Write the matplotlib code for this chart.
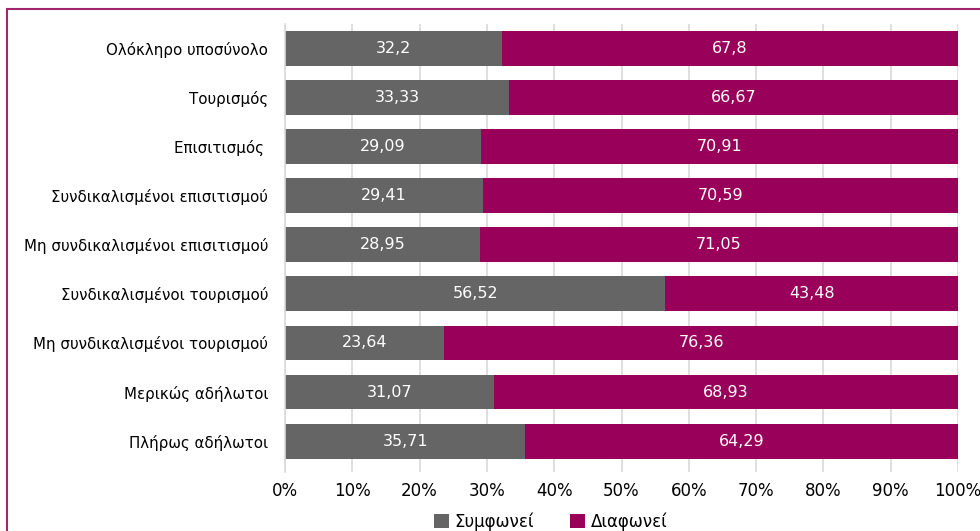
import matplotlib.pyplot as plt
import matplotlib.patches as patches
import numpy as np

plt.rcParams['font.family'] = ['DejaVu Sans']

categories = ['Ολόκληρο υποσύνολο', 'Τουρισμός', 'Επισιτισμός ',
              'Συνδικαλισμένοι επισιτισμού', 'Μη συνδικαλισμένοι επισιτισμού',
              'Συνδικαλισμένοι τουρισμού', 'Μη συνδικαλισμένοι τουρισμού',
              'Μερικώς αδήλωτοι', 'Πλήρως αδήλωτοι']
agree = [32.2, 33.33, 29.09, 29.41, 28.95, 56.52, 23.64, 31.07, 35.71]
disagree = [67.8, 66.67, 70.91, 70.59, 71.05, 43.48, 76.36, 68.93, 64.29]
agree_labels = ['32,2', '33,33', '29,09', '29,41', '28,95', '56,52', '23,64', '31,07', '35,71']
disagree_labels = ['67,8', '66,67', '70,91', '70,59', '71,05', '43,48', '76,36', '68,93', '64,29']

gray = '#656565'
magenta = '#990059'

fig = plt.figure(figsize=(9.8, 5.31), dpi=100)
ax = fig.add_axes([0.2908, 0.1111, 0.6868, 0.8437])

y = np.arange(len(categories))[::-1]
b1 = ax.barh(y, agree, height=0.71, color=gray, label='Συμφωνεί', zorder=2)
b2 = ax.barh(y, disagree, left=agree, height=0.71, color=magenta, label='Διαφωνεί', zorder=2)

for i in range(len(categories)):
    ax.text(agree[i] / 2, y[i], agree_labels[i], ha='center', va='center',
            color='white', fontsize=11.5, zorder=3)
    ax.text(agree[i] + disagree[i] / 2, y[i], disagree_labels[i], ha='center',
            va='center', color='white', fontsize=11.5, zorder=3)

ax.set_xlim(0, 100)
ax.set_ylim(-0.63, 8.5)
ax.set_yticks(y)
ax.set_yticklabels(categories, fontsize=10.8)
ax.set_xticks(np.arange(0, 101, 10))
ax.set_xticklabels([f'{v}%' for v in range(0, 101, 10)], fontsize=12)
ax.tick_params(axis='both', length=0)
ax.tick_params(axis='x', pad=7)
ax.tick_params(axis='y', pad=12)
ax.xaxis.grid(True, color='#d9d9d9', linewidth=1.2, zorder=0)
ax.set_axisbelow(True)
for s in ['top', 'right', 'bottom']:
    ax.spines[s].set_visible(False)
ax.spines['left'].set_color('#d9d9d9')
ax.spines['left'].set_linewidth(1.2)

fig.legend(handles=[b1, b2], loc='center', bbox_to_anchor=(0.562, 0.018),
           ncol=2, frameon=False, fontsize=12, handlelength=0.9, handleheight=0.9,
           handletextpad=0.3, columnspacing=2.2)

border = patches.Rectangle((7 / 980, -0.1), 1.2, 1 - 9 / 531 + 0.1,
                           transform=fig.transFigure, fill=False,
                           edgecolor='#a0266e', linewidth=1.5)
fig.patches.append(border)

fig.savefig('out.png', dpi=100)
